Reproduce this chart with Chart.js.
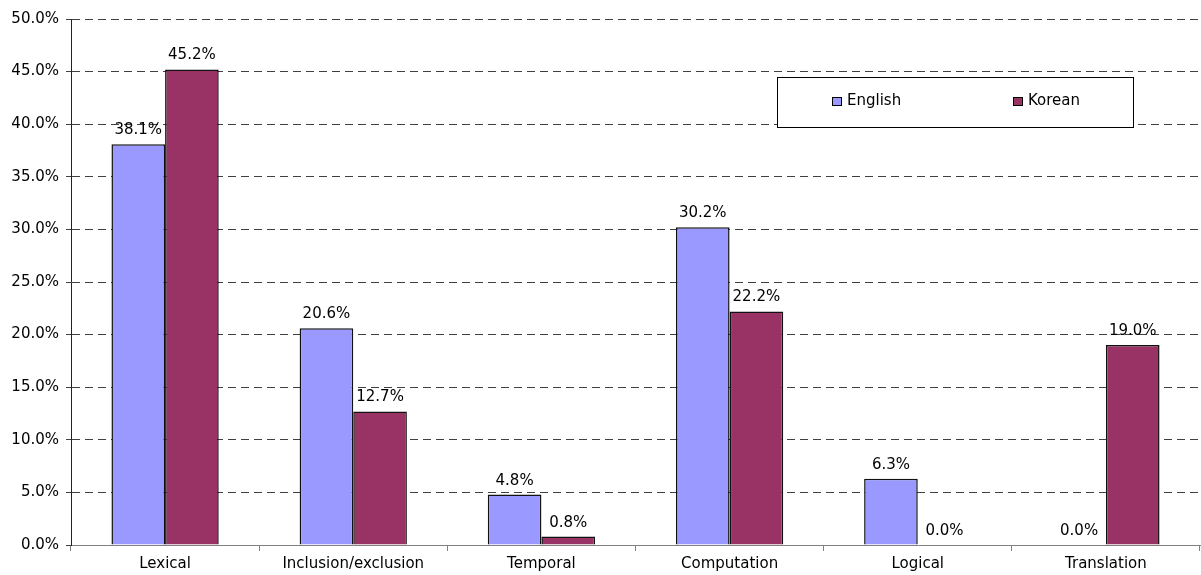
<!DOCTYPE html>
<html>
<head>
<meta charset="utf-8">
<script src="https://cdn.jsdelivr.net/npm/chart.js@4"></script>
<style>
  html, body { margin: 0; padding: 0; background: #fff; }
  #wrap { width: 1201px; height: 575px; }
</style>
</head>
<body>
<div id="wrap"><canvas id="myChart"></canvas></div>
<script>
const categories = ["Lexical", "Inclusion/exclusion", "Temporal", "Computation", "Logical", "Translation"];
const englishValues = [38.1, 20.6, 4.8, 30.2, 6.3, 0.0];
const koreanValues = [45.2, 12.7, 0.8, 22.2, 0.0, 19.0];
const yTicks = [0, 5, 10, 15, 20, 25, 30, 35, 40, 45, 50];

const FONT = "'DejaVu Sans', sans-serif";

// value labels above each bar
const valueLabels = {
  id: "valueLabels",
  afterDatasetsDraw(chart) {
    const ctx = chart.ctx;
    ctx.save();
    ctx.fillStyle = "#000";
    ctx.font = "15px " + FONT;
    ctx.textAlign = "center";
    ctx.textBaseline = "alphabetic";
    chart.data.datasets.forEach((ds, i) => {
      chart.getDatasetMeta(i).data.forEach((bar, j) => {
        ctx.fillText(ds.data[j].toFixed(1) + "%", bar.x, bar.y - 10);
      });
    });
    ctx.restore();
  },
};

// boxed legend like the original, top right
const boxLegend = {
  id: "boxLegend",
  afterDraw(chart) {
    const ctx = chart.ctx;
    ctx.save();
    ctx.fillStyle = "#fff";
    ctx.fillRect(777, 77, 356, 50);
    ctx.strokeStyle = "#000";
    ctx.lineWidth = 1;
    ctx.strokeRect(777.5, 77.5, 356, 50);
    ctx.font = "15px " + FONT;
    ctx.textBaseline = "middle";
    const xs = [832, 1013];
    chart.data.datasets.forEach((ds, i) => {
      ctx.fillStyle = ds.backgroundColor;
      ctx.fillRect(xs[i] + 0.5, 97.5, 9, 8);
      ctx.strokeStyle = "#000";
      ctx.strokeRect(xs[i] + 0.5, 97.5, 9, 8);
      ctx.fillStyle = "#000";
      ctx.fillText(ds.label, xs[i] + 15, 101);
    });
    ctx.restore();
  },
};

const ctx = document.getElementById("myChart").getContext("2d");

const myChart = new Chart(ctx, {
  type: "bar",
  data: {
    labels: categories,
    datasets: [
      {
        label: "English",
        data: englishValues,
        backgroundColor: "#9999FF",
        borderColor: "#111",
        borderWidth: 1.5,
        categoryPercentage: 0.57,
        barPercentage: 1.0,
      },
      {
        label: "Korean",
        data: koreanValues,
        backgroundColor: "#993366",
        borderColor: "#111",
        borderWidth: 1.5,
        categoryPercentage: 0.57,
        barPercentage: 1.0,
      },
    ],
  },
  options: {
    responsive: true,
    maintainAspectRatio: false,
    animation: false,
    layout: { padding: { top: 19, right: 1, left: 0, bottom: 0 } },
    scales: {
      x: {
        offset: true,
        grid: {
          offset: true,
          drawOnChartArea: false,
          drawTicks: true,
          tickLength: 6,
          color: "#808080",
        },
        border: { display: true, color: "#808080", width: 1 },
        ticks: {
          color: "#000",
          font: { size: 15, family: FONT },
          padding: 4,
          maxRotation: 0,
        },
        afterFit(scale) {
          scale.height = 30;
        },
      },
      y: {
        min: 0,
        max: 50,
        afterBuildTicks(scale) {
          scale.ticks = yTicks.map((v) => ({ value: v }));
        },
        grid: {
          color: (c) => (c.tick && c.tick.value === 0 ? "rgba(0,0,0,0)" : "#404040"),
          lineWidth: 1,
          tickLength: 5,
          tickColor: "#404040",
          tickBorderDash: [],
        },
        // in v4 border.dash sets the dash of the grid lines
        border: { display: true, color: "#222", width: 1, dash: [8, 5] },
        ticks: {
          color: "#000",
          font: { size: 15, family: FONT },
          padding: 7,
          callback: (v) => v.toFixed(1) + "%",
        },
        afterFit(scale) {
          scale.width = 71;
        },
      },
    },
    plugins: {
      legend: { display: false },
      tooltip: { enabled: false },
    },
  },
  plugins: [valueLabels, boxLegend],
});
</script>
</body>
</html>
